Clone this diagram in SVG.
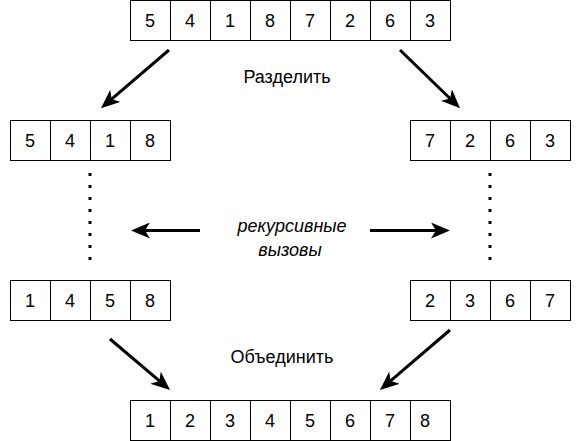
<svg xmlns="http://www.w3.org/2000/svg" width="581" height="441" viewBox="0 0 581 441">
<style>
.c{fill:#fff;stroke:#000;stroke-width:1}
.t{font-family:"Liberation Sans",Arial,sans-serif;font-size:18px;fill:#000;text-anchor:middle}
.a{stroke:#000;stroke-width:3;fill:none}
.d{stroke:#000;stroke-width:3;fill:none;stroke-dasharray:3 9}
</style>
<defs>
<marker id="ah" viewBox="0 0 19 16" refX="5" refY="8" markerWidth="19" markerHeight="16" orient="auto" markerUnits="userSpaceOnUse">
<path d="M0,0 L19,8 L0,16 L5,8 Z" fill="#000"/>
</marker>
</defs>
<rect width="581" height="441" fill="#fff"/>
<g id="top">
<rect class="c" x="130.5" y="0.5" width="40" height="40"/><rect class="c" x="170.5" y="0.5" width="40" height="40"/><rect class="c" x="210.5" y="0.5" width="40" height="40"/><rect class="c" x="250.5" y="0.5" width="40" height="40"/><rect class="c" x="290.5" y="0.5" width="40" height="40"/><rect class="c" x="330.5" y="0.5" width="40" height="40"/><rect class="c" x="370.5" y="0.5" width="40" height="40"/><rect class="c" x="410.5" y="0.5" width="40" height="40"/>
<text class="t" x="150" y="27">5</text><text class="t" x="190" y="27">4</text><text class="t" x="230" y="27">1</text><text class="t" x="270" y="27">8</text><text class="t" x="310" y="27">7</text><text class="t" x="350" y="27">2</text><text class="t" x="390" y="27">6</text><text class="t" x="430" y="27">3</text>
</g>
<g id="left1">
<rect class="c" x="10.5" y="120.5" width="40" height="40"/><rect class="c" x="50.5" y="120.5" width="40" height="40"/><rect class="c" x="90.5" y="120.5" width="40" height="40"/><rect class="c" x="130.5" y="120.5" width="40" height="40"/>
<text class="t" x="30" y="147">5</text><text class="t" x="70" y="147">4</text><text class="t" x="110" y="147">1</text><text class="t" x="150" y="147">8</text>
</g>
<g id="right1">
<rect class="c" x="410.5" y="120.5" width="40" height="40"/><rect class="c" x="450.5" y="120.5" width="40" height="40"/><rect class="c" x="490.5" y="120.5" width="40" height="40"/><rect class="c" x="530.5" y="120.5" width="40" height="40"/>
<text class="t" x="430" y="147">7</text><text class="t" x="470" y="147">2</text><text class="t" x="510" y="147">6</text><text class="t" x="550" y="147">3</text>
</g>
<g id="left2">
<rect class="c" x="10.5" y="280.5" width="40" height="40"/><rect class="c" x="50.5" y="280.5" width="40" height="40"/><rect class="c" x="90.5" y="280.5" width="40" height="40"/><rect class="c" x="130.5" y="280.5" width="40" height="40"/>
<text class="t" x="30" y="307">1</text><text class="t" x="70" y="307">4</text><text class="t" x="110" y="307">5</text><text class="t" x="150" y="307">8</text>
</g>
<g id="right2">
<rect class="c" x="410.5" y="280.5" width="40" height="40"/><rect class="c" x="450.5" y="280.5" width="40" height="40"/><rect class="c" x="490.5" y="280.5" width="40" height="40"/><rect class="c" x="530.5" y="280.5" width="40" height="40"/>
<text class="t" x="430" y="307">2</text><text class="t" x="470" y="307">3</text><text class="t" x="510" y="307">6</text><text class="t" x="550" y="307">7</text>
</g>
<g id="bottom">
<rect class="c" x="130.5" y="400.5" width="40" height="40"/><rect class="c" x="170.5" y="400.5" width="40" height="40"/><rect class="c" x="210.5" y="400.5" width="40" height="40"/><rect class="c" x="250.5" y="400.5" width="40" height="40"/><rect class="c" x="290.5" y="400.5" width="40" height="40"/><rect class="c" x="330.5" y="400.5" width="40" height="40"/><rect class="c" x="370.5" y="400.5" width="40" height="40"/><rect class="c" x="410.5" y="400.5" width="40" height="40"/>
<text class="t" x="150" y="427">1</text><text class="t" x="190" y="427">2</text><text class="t" x="230" y="427">3</text><text class="t" x="270" y="427">4</text><text class="t" x="310" y="427">5</text><text class="t" x="350" y="427">6</text><text class="t" x="390" y="427">7</text><text class="t" x="425" y="427">8</text>
</g>
<g id="labels">
<text class="t" x="287" y="83">Разделить</text>
<text class="t" x="292" y="232" font-style="italic">рекурсивные</text>
<text class="t" x="290" y="256" font-style="italic">вызовы</text>
<text class="t" x="282" y="363">Объединить</text>
</g>
<g id="connectors">
<line class="a" x1="169" y1="50" x2="111.6" y2="99.1" marker-end="url(#ah)"/>
<line class="a" x1="400" y1="50" x2="450" y2="98.5" marker-end="url(#ah)"/>
<line class="a" x1="110" y1="339" x2="159.4" y2="380.9" marker-end="url(#ah)"/>
<line class="a" x1="450" y1="330" x2="390.6" y2="380.9" marker-end="url(#ah)"/>
<line class="a" x1="200" y1="230.5" x2="145" y2="230.5" marker-end="url(#ah)"/>
<line class="a" x1="370" y1="230.5" x2="436" y2="230.5" marker-end="url(#ah)"/>
<line class="d" x1="90" y1="173" x2="90" y2="263"/>
<line class="d" x1="490" y1="173" x2="490" y2="263"/>
</g>
</svg>
